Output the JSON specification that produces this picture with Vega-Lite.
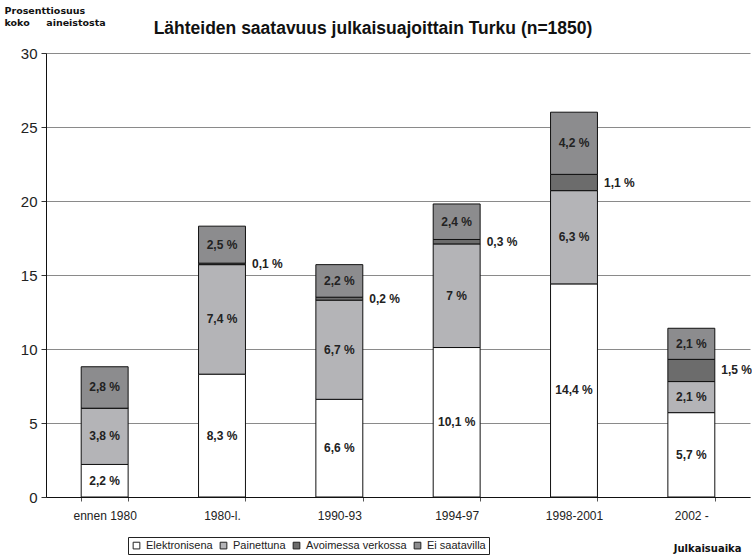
{
  "$schema": "https://vega.github.io/schema/vega-lite/v6.json",
  "autosize": {"type": "none"},
  "width": 704,
  "height": 444,
  "padding": {"left": 46, "top": 53, "right": 2, "bottom": 62},
  "background": "white",
  "title": {
    "text": "Lähteiden saatavuus julkaisuajoittain Turku (n=1850)",
    "anchor": "middle",
    "frame": "group",
    "dx": -25,
    "offset": -32,
    "font": "Liberation Sans",
    "fontSize": 17.5,
    "fontWeight": "bold",
    "color": "#111"
  },
  "data": {
    "values": [
      {"period": "ennen 1980", "type": "Elektronisena", "order": 1, "value": 2.2},
      {"period": "ennen 1980", "type": "Painettuna", "order": 2, "value": 3.8},
      {"period": "ennen 1980", "type": "Avoimessa verkossa", "order": 3, "value": 0},
      {"period": "ennen 1980", "type": "Ei saatavilla", "order": 4, "value": 2.8},
      {"period": "1980-l.", "type": "Elektronisena", "order": 1, "value": 8.3},
      {"period": "1980-l.", "type": "Painettuna", "order": 2, "value": 7.4},
      {"period": "1980-l.", "type": "Avoimessa verkossa", "order": 3, "value": 0.1},
      {"period": "1980-l.", "type": "Ei saatavilla", "order": 4, "value": 2.5},
      {"period": "1990-93", "type": "Elektronisena", "order": 1, "value": 6.6},
      {"period": "1990-93", "type": "Painettuna", "order": 2, "value": 6.7},
      {"period": "1990-93", "type": "Avoimessa verkossa", "order": 3, "value": 0.2},
      {"period": "1990-93", "type": "Ei saatavilla", "order": 4, "value": 2.2},
      {"period": "1994-97", "type": "Elektronisena", "order": 1, "value": 10.1},
      {"period": "1994-97", "type": "Painettuna", "order": 2, "value": 7},
      {"period": "1994-97", "type": "Avoimessa verkossa", "order": 3, "value": 0.3},
      {"period": "1994-97", "type": "Ei saatavilla", "order": 4, "value": 2.4},
      {"period": "1998-2001", "type": "Elektronisena", "order": 1, "value": 14.4},
      {"period": "1998-2001", "type": "Painettuna", "order": 2, "value": 6.3},
      {"period": "1998-2001", "type": "Avoimessa verkossa", "order": 3, "value": 1.1},
      {"period": "1998-2001", "type": "Ei saatavilla", "order": 4, "value": 4.2},
      {"period": "2002 -", "type": "Elektronisena", "order": 1, "value": 5.7},
      {"period": "2002 -", "type": "Painettuna", "order": 2, "value": 2.1},
      {"period": "2002 -", "type": "Avoimessa verkossa", "order": 3, "value": 1.5},
      {"period": "2002 -", "type": "Ei saatavilla", "order": 4, "value": 2.1}
    ]
  },
  "transform": [
    {"stack": "value", "groupby": ["period"], "sort": [{"field": "order"}], "as": ["y0", "y1"]},
    {"calculate": "(datum.y0 + datum.y1) / 2", "as": "ymid"},
    {"calculate": "replace(format(datum.value, '.1~f'), '.', ',') + ' %'", "as": "label"}
  ],
  "encoding": {
    "x": {
      "field": "period",
      "type": "nominal",
      "sort": ["ennen 1980", "1980-l.", "1990-93", "1994-97", "1998-2001", "2002 -"],
      "scale": {"paddingInner": 0.6, "paddingOuter": 0.3},
      "axis": {
        "title": "Julkaisuaika",
        "titleFont": "DejaVu Sans",
        "titleFontSize": 10,
        "titleFontWeight": "bold",
        "titleColor": "#111",
        "titleAnchor": "end",
        "titleAlign": "right",
        "titleBaseline": "alphabetic",
        "titleX": 695,
        "titleY": 54,
        "labelAngle": 0,
        "labelFont": "Liberation Sans",
        "labelFontSize": 12,
        "labelColor": "#222",
        "labelPadding": 9,
        "tickBand": "extent",
        "tickSize": 4,
        "tickColor": "#555",
        "domainColor": "#111",
        "grid": false
      }
    }
  },
  "layer": [
    {
      "mark": {"type": "bar", "stroke": "#111", "strokeWidth": 1},
      "encoding": {
        "y": {
          "field": "y1",
          "type": "quantitative",
          "scale": {"domain": [0, 30], "nice": false},
          "axis": {
            "title": ["\u00a0\u00a0Prosenttiosuus", "koko\u00a0\u00a0\u00a0\u00a0 aineistosta"],
            "titleAngle": 0,
            "titleAlign": "left",
            "titleBaseline": "alphabetic",
            "titleX": -42,
            "titleY": -40,
            "titleFont": "DejaVu Sans",
            "titleFontSize": 9.5,
            "titleFontWeight": "bold",
            "titleColor": "#111",
            "titleLineHeight": 12,
            "values": [0, 5, 10, 15, 20, 25, 30],
            "labelFont": "Liberation Sans",
            "labelFontSize": 15,
            "labelColor": "#222",
            "labelPadding": 4,
            "tickSize": 5,
            "tickColor": "#333",
            "domainColor": "#111",
            "gridColor": "#8a8a8a",
            "gridWidth": 1
          }
        },
        "y2": {"field": "y0"},
        "color": {
          "field": "type",
          "type": "nominal",
          "sort": ["Elektronisena", "Painettuna", "Avoimessa verkossa", "Ei saatavilla"],
          "scale": {
            "domain": ["Elektronisena", "Painettuna", "Avoimessa verkossa", "Ei saatavilla"],
            "range": ["#ffffff", "#b4b4b7", "#6c6c6c", "#8c8c8e"]
          },
          "legend": {
            "title": null,
            "orient": "none",
            "direction": "horizontal",
            "legendX": 82,
            "legendY": 484,
            "strokeColor": "#222",
            "padding": 3,
            "symbolType": "square",
            "symbolSize": 45,
            "symbolStrokeColor": "#222",
            "symbolStrokeWidth": 1,
            "labelFont": "Liberation Sans",
            "labelFontSize": 11,
            "labelColor": "#222",
            "labelOffset": 4,
            "columnPadding": 5
          }
        }
      }
    },
    {
      "transform": [{"filter": "datum.type != 'Avoimessa verkossa'"}],
      "mark": {"type": "text", "font": "Liberation Sans", "fontSize": 12, "fontWeight": "bold", "color": "#222", "align": "center", "baseline": "middle"},
      "encoding": {
        "y": {"field": "ymid", "type": "quantitative"},
        "text": {"field": "label"}
      }
    },
    {
      "transform": [{"filter": "datum.type == 'Avoimessa verkossa' && datum.value > 0"}],
      "mark": {"type": "text", "font": "Liberation Sans", "fontSize": 12, "fontWeight": "bold", "color": "#222", "align": "left", "baseline": "middle", "dx": 30},
      "encoding": {
        "y": {"field": "ymid", "type": "quantitative"},
        "text": {"field": "label"}
      }
    }
  ],
  "config": {
    "view": {"stroke": null}
  }
}
